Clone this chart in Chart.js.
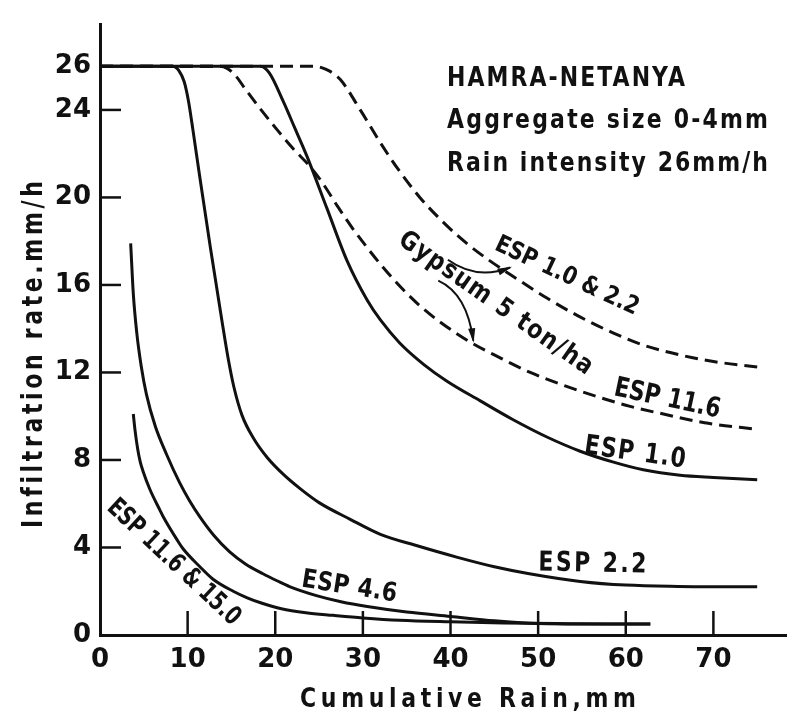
<!DOCTYPE html>
<html>
<head>
<meta charset="utf-8">
<script src="https://cdn.jsdelivr.net/npm/chart.js@4/dist/chart.umd.min.js"></script>
<style>
  html, body { margin: 0; padding: 0; background: #fff; }
  #wrap { width: 787px; height: 712px; }
</style>
</head>
<body>
<div id="wrap"><canvas id="infiltrationChart"></canvas></div>
<script>
// tick labels
const xTicks = [0, 10, 20, 30, 40, 50, 60, 70];
const yTicks = [0, 4, 8, 12, 16, 20, 24, 26];

// ESP 1.0 & 2.2 (dashed)
const espLowDashX = [0, 24.3, 25.8, 27.4, 29.7, 32, 34, 36.5, 39.6, 42, 44.5, 47.5, 51, 54.5, 58.6, 62, 66.2, 70, 75];
const espLowDashY = [26, 26, 25.85, 25.4, 24, 22.5, 21.3, 20, 18.7, 17.85, 17.1, 16.3, 15.4, 14.6, 13.8, 13.25, 12.8, 12.5, 12.25];

// Gypsum 5 ton/ha, ESP 11.6 (dashed)
const gypsumX = [0, 13.5, 14.5, 15.5, 16.5, 18.2, 20.2, 22, 24, 25.5, 27.1, 28.8, 30.5, 32, 34.2, 36.5, 39, 42.2, 45.5, 49.1, 53, 56.7, 60.5, 64.3, 69, 75];
const gypsumY = [26, 26, 25.9, 25.55, 25, 24.1, 23.1, 22.25, 21.4, 20.6, 19.6, 18.6, 17.7, 16.95, 15.95, 15.05, 14.25, 13.4, 12.7, 12, 11.4, 10.9, 10.45, 10.1, 9.7, 9.4];

// ESP 1.0
const esp10X = [0, 18.3, 19.3, 20.9, 22.2, 23.6, 25.9, 28.2, 30.5, 32, 34.2, 37, 39.6, 43.4, 47.1, 51, 54.8, 58.6, 62, 66.2, 70, 75];
const esp10Y = [26, 26, 25.7, 24.4, 23.2, 21.9, 19.5, 17.1, 15.3, 14.4, 13.35, 12.35, 11.6, 10.7, 9.85, 9.05, 8.4, 7.9, 7.55, 7.3, 7.2, 7.1];

// ESP 2.2
const esp22X = [0, 8.3, 9, 9.6, 10.1, 10.6, 11.4, 12.6, 13.9, 14.6, 15.3, 16.2, 17.5, 19.1, 20.9, 22.8, 25, 28.5, 32, 36, 40.8, 45, 49, 54.8, 60, 66, 75];
const esp22Y = [26, 26, 25.8, 25.3, 24.4, 23.1, 20.9, 17.7, 14.4, 12.7, 11.3, 10.05, 9, 8.1, 7.35, 6.7, 6.05, 5.3, 4.6, 4.1, 3.55, 3.12, 2.8, 2.45, 2.28, 2.22, 2.2];

// ESP 4.6
const esp46X = [3.5, 3.8, 4.2, 4.7, 5.3, 6.3, 7.6, 9.1, 10.2, 11.4, 13, 14.8, 16.6, 18.6, 20.2, 21.7, 24.7, 27.5, 30.5, 35, 40, 45, 50, 56, 62.8];
const esp46Y = [17.9, 15.6, 13.8, 12.3, 11, 9.55, 8.25, 6.95, 6.15, 5.4, 4.55, 3.8, 3.25, 2.8, 2.48, 2.2, 1.8, 1.52, 1.3, 1.05, 0.85, 0.65, 0.52, 0.5, 0.5];

// ESP 11.6 & 15.0
const esp116X = [3.8, 4, 4.3, 4.6, 4.9, 5.7, 6.85, 7.2, 8.8, 9.5, 11.4, 12.9, 15.2, 16.8, 18.5, 20.7, 23.5, 26.6, 30, 34.2, 40, 46, 52, 58, 62.8];
const esp116Y = [10.1, 9.35, 8.5, 7.9, 7.5, 6.65, 5.7, 5.42, 4.35, 3.93, 3.12, 2.55, 2, 1.7, 1.45, 1.2, 1.02, 0.9, 0.78, 0.67, 0.6, 0.55, 0.52, 0.5, 0.5];

// text on the plot: [text, x, y, angle deg, align, width px, cap height px]
const noteLabels = [
  ["HAMRA-NETANYA", 39.6, 25.11, 0, "left", 238, 20],
  ["Aggregate size 0-4mm", 39.6, 23.18, 0, "left", 321, 20],
  ["Rain intensity 26mm/h", 39.6, 21.21, 0, "left", 321, 20],
  ["ESP 1.0 & 2.2", 53.4, 16.5, 25, "center", 156, 18],
  ["Gypsum 5 ton/ha", 45.3, 15.25, 35, "center", 231, 19],
  ["ESP 11.6", 64.8, 10.9, 12, "center", 108, 20],
  ["ESP 1.0", 61.1, 8.43, 8, "center", 102, 20],
  ["ESP 2.2", 56.2, 3.36, 1, "center", 108, 20],
  ["ESP 4.6", 28.5, 2.3, 9, "center", 96, 19],
  ["ESP 11.6 & 15.0", 8.6, 3.4, 43, "center", 172, 19],
];

// curved arrows from the gypsum label: start, control, end
const arrows = [
  [[39.7, 17.15], [43.0, 16.2], [46.8, 16.8]],
  [[38.6, 16.2], [41.9, 15.6], [42.6, 13.45]],
];

const toPoints = (xs, ys) => xs.map((x, i) => ({ x: x, y: ys[i] }));

const FONT = "'DejaVu Sans', sans-serif";
const INK = "#111";

// draws text stretched to a given width and cap height, baseline at 0
function fitText(ctx, text, align, width, cap) {
  const size = 22;
  ctx.font = "bold " + size + "px " + FONT;
  ctx.letterSpacing = "0px";
  const w0 = ctx.measureText(text).width;
  const k = cap / (0.729 * size);
  ctx.save();
  ctx.scale(1, k);
  ctx.textAlign = "left";
  ctx.textBaseline = "alphabetic";
  const x0 = align === "center" ? -width / 2 : 0;
  if (w0 < width) {
    ctx.letterSpacing = (width - w0) / (text.length - 1) + "px";
    ctx.fillText(text, x0, 0);
  } else {
    ctx.translate(x0, 0);
    ctx.scale(width / w0, 1);
    ctx.fillText(text, 0, 0);
  }
  ctx.restore();
}

const annotations = {
  id: "annotations",
  afterDraw(chart) {
    const { ctx, scales: { x, y } } = chart;
    ctx.save();
    ctx.strokeStyle = INK;
    ctx.fillStyle = INK;
    ctx.lineWidth = 2.5;

    // tick marks point into the plot
    xTicks.forEach((v) => {
      if (v === 0) return;
      const px = x.getPixelForValue(v);
      ctx.beginPath();
      ctx.moveTo(px, y.bottom);
      ctx.lineTo(px, y.bottom - 24);
      ctx.stroke();
    });
    yTicks.forEach((v) => {
      if (v === 0) return;
      const py = y.getPixelForValue(v);
      ctx.beginPath();
      ctx.moveTo(x.left, py);
      ctx.lineTo(x.left + 21, py);
      ctx.stroke();
    });

    noteLabels.forEach(([text, vx, vy, angle, align, width, cap]) => {
      ctx.save();
      ctx.translate(x.getPixelForValue(vx), y.getPixelForValue(vy));
      ctx.rotate((angle * Math.PI) / 180);
      const yOff = align === "center" ? cap / 2 : 0;
      ctx.translate(0, yOff);
      fitText(ctx, text, align, width, cap);
      ctx.restore();
    });

    ctx.lineWidth = 2;
    arrows.forEach(([s, c, e]) => {
      const sx = x.getPixelForValue(s[0]), sy = y.getPixelForValue(s[1]);
      const cx = x.getPixelForValue(c[0]), cy = y.getPixelForValue(c[1]);
      const ex = x.getPixelForValue(e[0]), ey = y.getPixelForValue(e[1]);
      ctx.beginPath();
      ctx.moveTo(sx, sy);
      ctx.quadraticCurveTo(cx, cy, ex, ey);
      ctx.stroke();
      const a = Math.atan2(ey - cy, ex - cx);
      ctx.beginPath();
      ctx.moveTo(ex + 2 * Math.cos(a), ey + 2 * Math.sin(a));
      ctx.lineTo(ex - 13 * Math.cos(a - 0.28), ey - 13 * Math.sin(a - 0.28));
      ctx.lineTo(ex - 13 * Math.cos(a + 0.28), ey - 13 * Math.sin(a + 0.28));
      ctx.closePath();
      ctx.fill();
    });

    // axis titles
    ctx.save();
    ctx.translate(x.getPixelForValue(42), 707);
    fitText(ctx, "Cumulative Rain,mm", "center", 336, 20);
    ctx.restore();
    ctx.save();
    ctx.translate(42, y.getPixelForValue(12.8));
    ctx.rotate(-Math.PI / 2);
    fitText(ctx, "Infiltration rate.mm/h", "center", 346, 21);
    ctx.restore();

    ctx.restore();
  },
};

const lineStyle = {
  borderColor: INK,
  borderWidth: 3,
  pointRadius: 0,
  fill: false,
  cubicInterpolationMode: "monotone",
};

new Chart(document.getElementById("infiltrationChart"), {
  type: "line",
  data: {
    datasets: [
      { ...lineStyle, label: "ESP 1.0 & 2.2", data: toPoints(espLowDashX, espLowDashY), borderDash: [13, 7] },
      { ...lineStyle, label: "Gypsum 5 ton/ha ESP 11.6", data: toPoints(gypsumX, gypsumY), borderDash: [13, 7] },
      { ...lineStyle, label: "ESP 1.0", data: toPoints(esp10X, esp10Y) },
      { ...lineStyle, label: "ESP 2.2", data: toPoints(esp22X, esp22Y) },
      { ...lineStyle, label: "ESP 4.6", data: toPoints(esp46X, esp46Y) },
      { ...lineStyle, label: "ESP 11.6 & 15.0", data: toPoints(esp116X, esp116Y) },
    ],
  },
  options: {
    responsive: true,
    maintainAspectRatio: false,
    animation: false,
    layout: { padding: { top: 12, right: 0, left: 0, bottom: 0 } },
    plugins: {
      legend: { display: false },
      tooltip: { enabled: false },
    },
    scales: {
      x: {
        type: "linear",
        min: 0,
        max: 78.4,
        afterBuildTicks: (scale) => { scale.ticks = xTicks.map((v) => ({ value: v })); },
        afterFit: (scale) => { scale.height = 77; },
        grid: { display: false, drawTicks: false },
        border: { display: true, color: INK, width: 3 },
        ticks: { color: INK, padding: 10, maxRotation: 0, font: { family: FONT, size: 26, weight: "bold" } },
      },
      y: {
        min: 0,
        max: 27.9,
        afterBuildTicks: (scale) => { scale.ticks = yTicks.map((v) => ({ value: v })); },
        afterFit: (scale) => { scale.width = 100; },
        grid: { display: false, drawTicks: false },
        border: { display: true, color: INK, width: 3 },
        ticks: { color: INK, padding: 9, font: { family: FONT, size: 26, weight: "bold" } },
      },
    },
  },
  plugins: [annotations],
});
</script>
</body>
</html>
